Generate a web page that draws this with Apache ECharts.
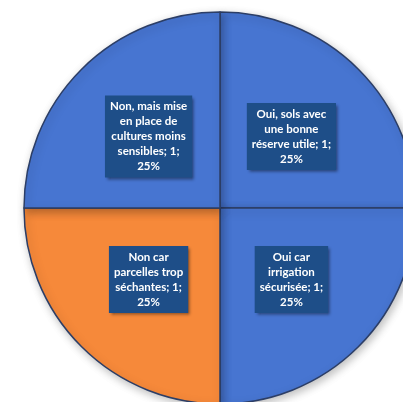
<!DOCTYPE html>
<html>
<head>
<meta charset="utf-8">
<script src="https://cdn.jsdelivr.net/npm/echarts@6/dist/echarts.min.js"></script>
<style>html,body{margin:0;padding:0;background:#fff}#c{width:403px;height:402px}</style>
</head>
<body>
<div id="c"></div>
<script>
const categories = [
  'Oui, sols avec\nune bonne\nréserve utile',
  'Oui car\nirrigation\nsécurisée',
  'Non car\nparcelles trop\nséchantes',
  'Non, mais mise\nen place de\ncultures moins\nsensibles'
];
const values = [1, 1, 1, 1];
const colors = ['#4775D1', '#4775D1', '#F6893A', '#4775D1'];

const chart = echarts.init(document.getElementById('c'), null, {renderer: 'canvas'});
chart.setOption({
  backgroundColor: '#ffffff',
  animation: false,
  series: [{
    type: 'pie',
    center: [220, 208],
    radius: 196,
    startAngle: 90,
    clockwise: true,
    silent: true,
    data: categories.map((n, i) => ({name: n, value: values[i], itemStyle: {color: colors[i]}})),
    itemStyle: {
      borderColor: '#2C3E66',
      borderWidth: 1.5,
      shadowColor: 'rgba(0,0,0,0.25)',
      shadowBlur: 8,
      shadowOffsetX: 2,
      shadowOffsetY: 3
    },
    label: {
      show: true,
      position: 'inside',
      formatter: '{b}; {c};\n{d}%',
      color: '#ffffff',
      fontFamily: 'Lato',
      fontWeight: 'bold',
      fontSize: 11.5,
      lineHeight: 15,
      align: 'center',
      backgroundColor: '#1E4E88',
      padding: [4, 5, 3, 5],
      shadowColor: 'rgba(0,0,0,0.45)',
      shadowBlur: 3,
      shadowOffsetX: 2,
      shadowOffsetY: 2
    },
    labelLine: {show: false}
  }]
});
</script>
</body>
</html>
